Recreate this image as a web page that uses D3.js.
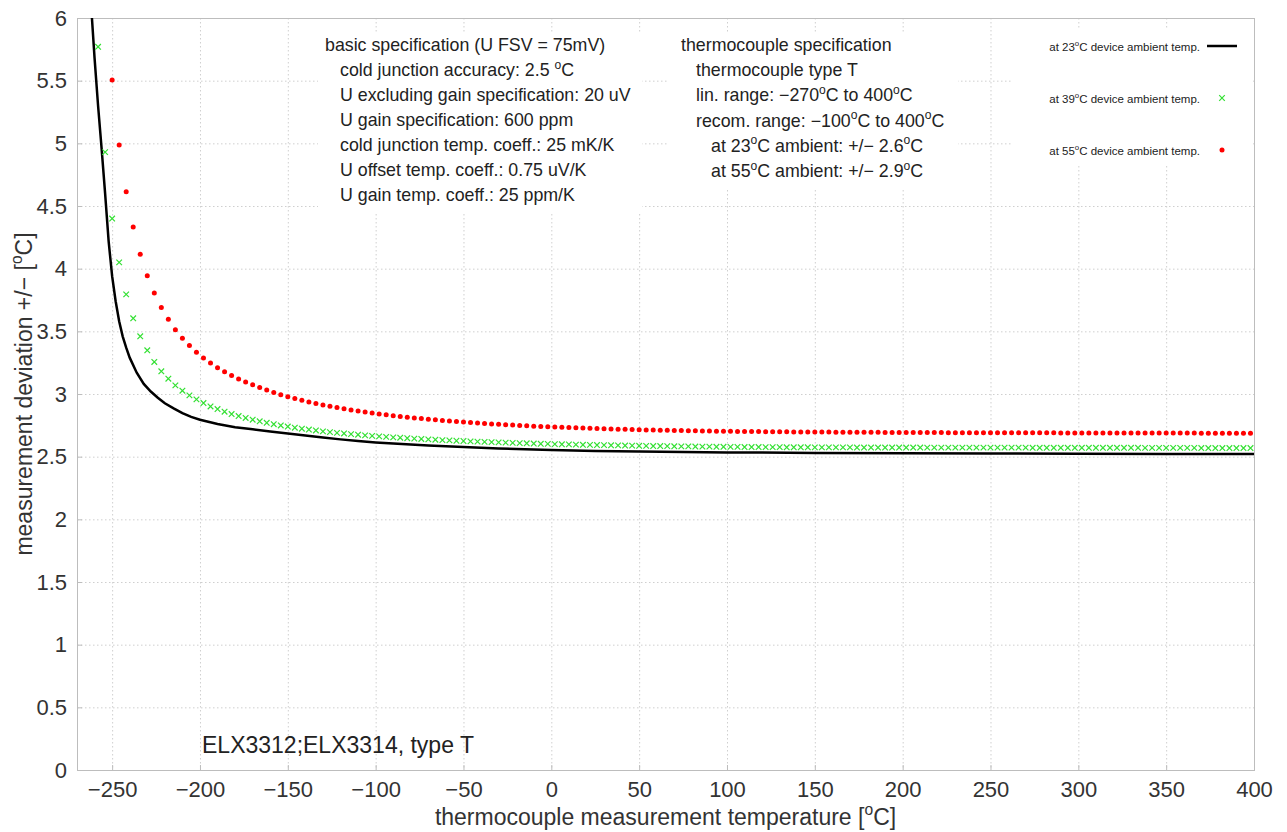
<!DOCTYPE html>
<html>
<head>
<meta charset="utf-8">
<script src="https://cdn.jsdelivr.net/npm/d3@7"></script>
<style>
  body { margin: 0; background: #fff; }
  text { font-family: "Liberation Sans", Arial, sans-serif; }
</style>
</head>
<body>
<script>
// chart size (matches the 1287x832 window)
const W = 1287, H = 832;
const margin = { top: 18, right: 33, bottom: 62, left: 77 };

// axis ticks
const tempTicks = d3.range(-250, 401, 50);
const devTicks = d3.range(0, 6.01, 0.5);

// 23C ambient - solid black line
const blackTemps = [-261.5, -260, -258, -256, -254, -252, -250, -248, -246, -244, -242, -240,
  -236, -232, -228, -224, -220, -215, -210, -205, -200, -190, -180, -170, -160, -150,
  -140, -130, -120, -110, -100, -90, -80, -70, -60, -50, -40, -30, -20, -10, 0,
  25, 50, 75, 100, 150, 200, 250, 300, 350, 400];
const blackDev = [6.00, 5.68, 5.30, 4.96, 4.60, 4.22, 3.94, 3.74, 3.58, 3.46, 3.37, 3.29,
  3.17, 3.08, 3.02, 2.97, 2.926, 2.885, 2.848, 2.817, 2.795, 2.760, 2.735, 2.718, 2.700, 2.684,
  2.668, 2.652, 2.638, 2.625, 2.614, 2.605, 2.597, 2.590, 2.583, 2.577, 2.571, 2.566, 2.562, 2.558, 2.554,
  2.546, 2.541, 2.537, 2.534, 2.530, 2.528, 2.526, 2.524, 2.522, 2.521];

// 39C ambient - green crosses, every 4 degC from -258
const greenTemps = d3.range(-258, 399, 4);
const greenDev = [
  5.77, 4.93, 4.40, 4.05, 3.795, 3.604, 3.460, 3.349, 3.256, 3.181,
  3.122, 3.069, 3.026, 2.989, 2.957, 2.928, 2.901, 2.880, 2.859, 2.840,
  2.824, 2.809, 2.795, 2.782, 2.770, 2.759, 2.749, 2.740, 2.731, 2.723,
  2.716, 2.709, 2.702, 2.696, 2.690, 2.685, 2.680, 2.675, 2.670, 2.666,
  2.662, 2.658, 2.654, 2.651, 2.647, 2.644, 2.641, 2.638, 2.635, 2.632,
  2.630, 2.627, 2.625, 2.622, 2.620, 2.618, 2.616, 2.614, 2.612, 2.610,
  2.608, 2.607, 2.605, 2.603, 2.602, 2.600, 2.599, 2.598, 2.596, 2.595,
  2.594, 2.593, 2.592, 2.591, 2.590, 2.589, 2.588, 2.587, 2.586, 2.585,
  2.585, 2.584, 2.583, 2.582, 2.582, 2.581, 2.580, 2.580, 2.579, 2.579,
  2.578, 2.578, 2.577, 2.577, 2.577, 2.576, 2.576, 2.576, 2.575, 2.575,
  2.575, 2.575, 2.574, 2.574, 2.574, 2.574, 2.574, 2.574, 2.573, 2.573,
  2.573, 2.573, 2.573, 2.573, 2.573, 2.573, 2.573, 2.573, 2.572, 2.572,
  2.572, 2.572, 2.572, 2.572, 2.572, 2.572, 2.572, 2.572, 2.572, 2.572,
  2.572, 2.572, 2.572, 2.571, 2.571, 2.571, 2.571, 2.571, 2.571, 2.571,
  2.571, 2.571, 2.571, 2.571, 2.571, 2.571, 2.571, 2.571, 2.571, 2.570,
  2.570, 2.570, 2.570, 2.570, 2.570, 2.570, 2.570, 2.569, 2.569, 2.569,
  2.569, 2.569, 2.569, 2.569, 2.569];

// 55C ambient - red dots, every 4 degC from -250
const redTemps = d3.range(-250, 399, 4);
const redDev = [
  5.505, 4.987, 4.614, 4.333, 4.116, 3.944, 3.806, 3.691, 3.596, 3.513,
  3.444, 3.386, 3.333, 3.287, 3.247, 3.210, 3.177, 3.147, 3.120, 3.096,
  3.073, 3.051, 3.031, 3.012, 2.995, 2.979, 2.964, 2.950, 2.937, 2.925,
  2.913, 2.902, 2.892, 2.882, 2.873, 2.864, 2.856, 2.848, 2.841, 2.834,
  2.827, 2.821, 2.815, 2.809, 2.804, 2.799, 2.794, 2.789, 2.785, 2.780,
  2.776, 2.772, 2.768, 2.765, 2.761, 2.758, 2.755, 2.752, 2.749, 2.746,
  2.743, 2.741, 2.738, 2.736, 2.734, 2.732, 2.730, 2.728, 2.726, 2.724,
  2.722, 2.721, 2.719, 2.718, 2.716, 2.715, 2.713, 2.712, 2.711, 2.710,
  2.709, 2.708, 2.707, 2.706, 2.705, 2.704, 2.703, 2.702, 2.702, 2.701,
  2.701, 2.700, 2.700, 2.699, 2.699, 2.698, 2.698, 2.697, 2.697, 2.697,
  2.696, 2.696, 2.696, 2.695, 2.695, 2.695, 2.694, 2.694, 2.694, 2.694,
  2.693, 2.693, 2.693, 2.693, 2.692, 2.692, 2.692, 2.692, 2.692, 2.691,
  2.691, 2.691, 2.691, 2.691, 2.690, 2.690, 2.690, 2.690, 2.690, 2.690,
  2.690, 2.690, 2.690, 2.690, 2.690, 2.689, 2.689, 2.689, 2.689, 2.689,
  2.689, 2.689, 2.689, 2.689, 2.689, 2.688, 2.688, 2.688, 2.688, 2.688,
  2.688, 2.688, 2.688, 2.688, 2.688, 2.687, 2.687, 2.687, 2.687, 2.687,
  2.687, 2.687, 2.687];

// annotation texts (° marks a superscript "o")
const basicSpec = ["basic specification (U FSV = 75mV)",
  "cold junction accuracy: 2.5 °C",
  "U excluding gain specification: 20 uV",
  "U gain specification: 600 ppm",
  "cold junction temp. coeff.: 25 mK/K",
  "U offset temp. coeff.: 0.75 uV/K",
  "U gain temp. coeff.: 25 ppm/K"];
const tcSpec = ["thermocouple specification",
  "thermocouple type T",
  "lin. range: \u2212270°C to 400°C",
  "recom. range: \u2212100°C to 400°C",
  "at 23°C ambient: +/\u2212 2.6°C",
  "at 55°C ambient: +/\u2212 2.9°C"];
const tcIndent = [0, 1, 1, 1, 2, 2];
const legendLabels = ["at 23°C device ambient temp.", "at 39°C device ambient temp.", "at 55°C device ambient temp."];

const x = d3.scaleLinear().domain([-270, 400]).range([margin.left, W - margin.right]);
const y = d3.scaleLinear().domain([0, 6]).range([H - margin.bottom, margin.top]);

const svg = d3.select('body').append('svg')
  .attr('width', W)
  .attr('height', H);

// put "o" superscripts where the string has a degree sign
function richText(sel, str, fs) {
  const parts = str.split('°');
  sel.append('tspan').text(parts[0]);
  for (let i = 1; i < parts.length; i++) {
    sel.append('tspan').attr('dy', -fs * 0.42).style('font-size', (fs * 0.68) + 'px').text('o');
    sel.append('tspan').attr('dy', fs * 0.42).text(parts[i]);
  }
}

// grid
const grid = svg.append('g').attr('stroke', '#cfcfcf').attr('stroke-width', 1).attr('stroke-dasharray', '1.5,2.5');
grid.selectAll('.gx').data(tempTicks).enter().append('line')
  .attr('x1', d => x(d) + 0.5).attr('x2', d => x(d) + 0.5)
  .attr('y1', y(6)).attr('y2', y(0));
grid.selectAll('.gy').data(devTicks).enter().append('line')
  .attr('x1', x(-270)).attr('x2', x(400))
  .attr('y1', d => y(d) + 0.5).attr('y2', d => y(d) + 0.5);

// white boxes behind the text blocks and legend
svg.append('rect').attr('x', 318).attr('y', 32).attr('width', 324).attr('height', 180).attr('fill', '#fff');
svg.append('rect').attr('x', 668).attr('y', 32).attr('width', 290).attr('height', 158).attr('fill', '#fff');
svg.append('rect').attr('x', 1013).attr('y', 30).attr('width', 240).attr('height', 136).attr('fill', '#fff');

// frame + inward ticks
svg.append('rect')
  .attr('x', x(-270) + 0.5).attr('y', y(6) + 0.5)
  .attr('width', x(400) - x(-270)).attr('height', y(0) - y(6))
  .attr('fill', 'none').attr('stroke', '#bdbdbd').attr('stroke-width', 1);

const xAxis = d3.axisBottom(x).tickValues(tempTicks).tickSizeInner(-5).tickSizeOuter(0).tickPadding(11);
const gx = svg.append('g').attr('transform', `translate(0,${y(0)})`).call(xAxis);
gx.select('.domain').remove();
gx.selectAll('line').attr('stroke', '#bdbdbd');
gx.selectAll('text').attr('fill', '#333').style('font-size', '22px');

const yAxis = d3.axisLeft(y).tickValues(devTicks).tickSizeInner(-5).tickSizeOuter(0).tickPadding(10)
  .tickFormat(d3.format(''));
const gy = svg.append('g').attr('transform', `translate(${x(-270)},0)`).call(yAxis);
gy.select('.domain').remove();
gy.selectAll('line').attr('stroke', '#bdbdbd');
gy.selectAll('text').attr('fill', '#333').style('font-size', '22px');

// axis titles
const yt = svg.append('text')
  .attr('transform', `translate(32,${(y(0) + y(6)) / 2}) rotate(-90)`)
  .attr('text-anchor', 'middle').attr('fill', '#333').style('font-size', '23px');
richText(yt, 'measurement deviation +/\u2212 [°C]', 23);
const xt = svg.append('text')
  .attr('x', (x(-270) + x(400)) / 2).attr('y', 825)
  .attr('text-anchor', 'middle').attr('fill', '#333').style('font-size', '23px');
richText(xt, 'thermocouple measurement temperature [°C]', 23);

// data
const plot = svg.append('g');
const line = d3.line().x((d, i) => x(blackTemps[i])).y(d => y(d));
plot.append('path').datum(blackDev)
  .attr('d', line).attr('fill', 'none').attr('stroke', '#000').attr('stroke-width', 2.5);

const cross = 2.8;
plot.selectAll('.green').data(greenDev).enter().append('path')
  .attr('class', 'green')
  .attr('d', (d, i) => {
    const cx = x(greenTemps[i]), cy = y(d);
    return `M${cx - cross},${cy - cross}L${cx + cross},${cy + cross}M${cx - cross},${cy + cross}L${cx + cross},${cy - cross}`;
  })
  .attr('stroke', '#33e033').attr('stroke-width', 1.2).attr('fill', 'none');

plot.selectAll('.red').data(redDev).enter().append('circle')
  .attr('class', 'red')
  .attr('cx', (d, i) => x(redTemps[i])).attr('cy', d => y(d))
  .attr('r', 2.5).attr('fill', '#ff0000');

// spec text blocks
basicSpec.forEach((s, i) => {
  const t = svg.append('text').attr('x', i === 0 ? 325 : 340).attr('y', 51 + i * 25)
    .attr('fill', '#222').style('font-size', '17.8px');
  richText(t, s, 17.8);
});
tcSpec.forEach((s, i) => {
  const t = svg.append('text').attr('x', 681 + tcIndent[i] * 15).attr('y', 51 + i * 25.2)
    .attr('fill', '#222').style('font-size', '17.8px');
  richText(t, s, 17.8);
});

// product label
svg.append('text').attr('x', 202).attr('y', 753).attr('fill', '#222')
  .style('font-size', '23px').text('ELX3312;ELX3314, type T');

// legend
legendLabels.forEach((s, i) => {
  const ly = 47 + i * 52;
  const t = svg.append('text').attr('x', 1200).attr('y', ly + 4)
    .attr('text-anchor', 'end').attr('fill', '#222').style('font-size', '11.5px');
  richText(t, s, 11.5);
});
svg.append('line').attr('x1', 1207).attr('x2', 1237).attr('y1', 46).attr('y2', 46)
  .attr('stroke', '#000').attr('stroke-width', 2.5);
svg.append('path')
  .attr('d', `M${1222 - cross},${98 - cross}L${1222 + cross},${98 + cross}M${1222 - cross},${98 + cross}L${1222 + cross},${98 - cross}`)
  .attr('stroke', '#33e033').attr('stroke-width', 1.2);
svg.append('circle').attr('cx', 1222).attr('cy', 150).attr('r', 2.5).attr('fill', '#ff0000');
</script>
</body>
</html>
